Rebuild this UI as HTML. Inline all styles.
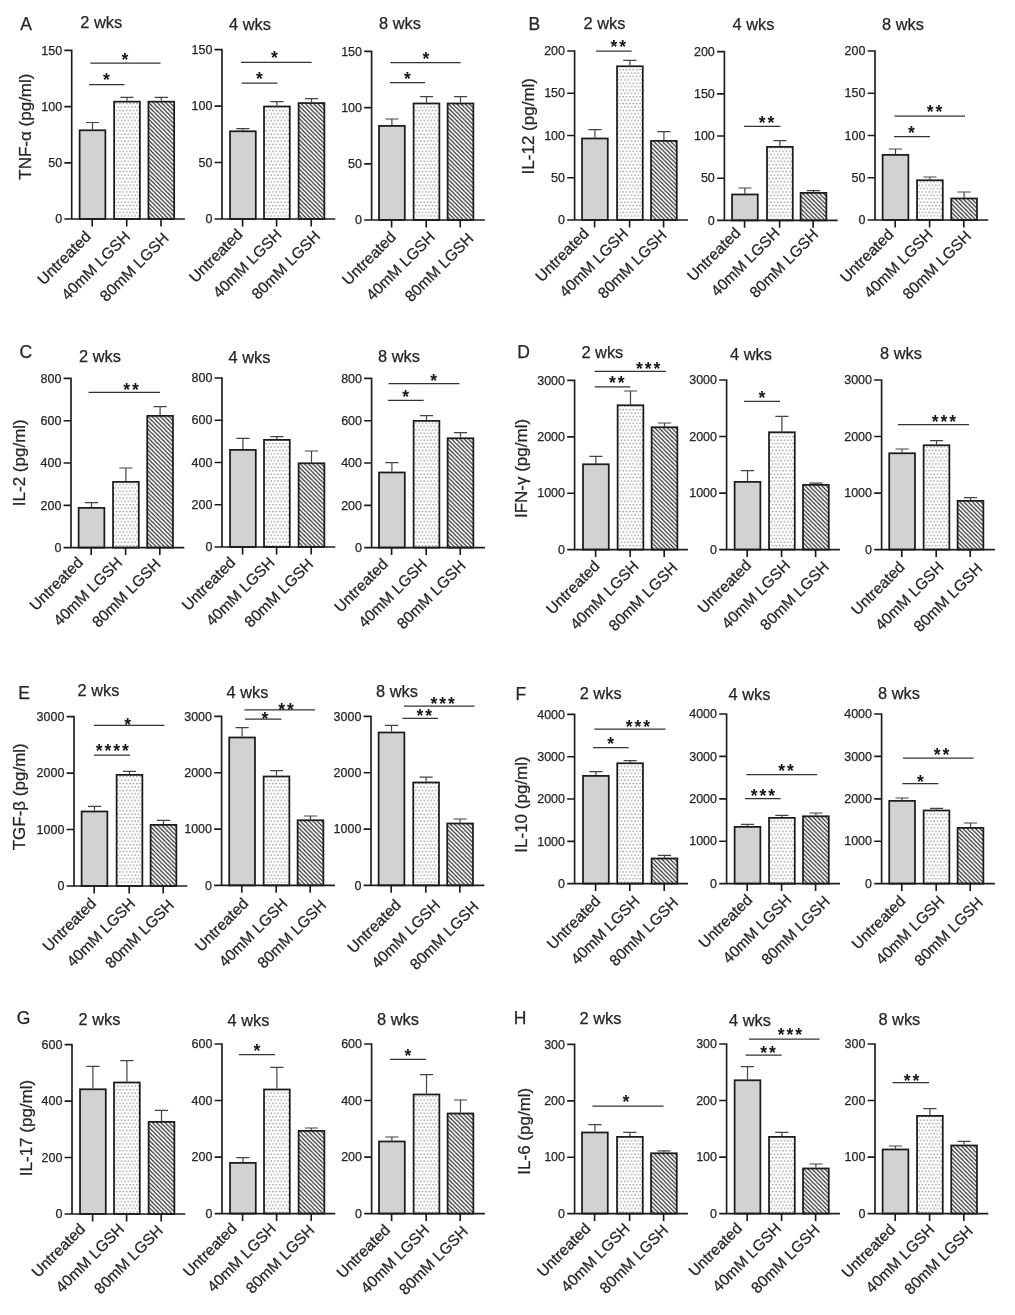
<!DOCTYPE html>
<html lang="en"><head><meta charset="utf-8"><title>Cytokine levels</title>
<style>
html,body{margin:0;padding:0;background:#fff}
svg{display:block}
.s{stroke:none;fill:#161616}
text{font-family:"Liberation Sans",sans-serif;fill:#262626;stroke:#262626;stroke-width:0.25px}
</style></head><body>
<svg width="1015" height="1315" viewBox="0 0 1015 1315">
<defs>
<pattern id="dots" width="3.4" height="6.8" patternUnits="userSpaceOnUse">
<rect width="3.4" height="6.8" fill="#fdfdfd"/>
<rect x="0.3" y="1.0" width="1.2" height="1.2" fill="#7d7d7d"/>
<rect x="2.0" y="4.4" width="1.2" height="1.2" fill="#7d7d7d"/>
</pattern>
<pattern id="hatch" width="4.2" height="4.2" patternUnits="userSpaceOnUse">
<rect width="4.2" height="4.2" fill="#fcfcfc"/>
<path d="M-2.1 -2.1L6.3 6.3M-2.1 2.1L2.1 6.3M2.1 -2.1L6.3 2.1" stroke="#262626" stroke-width="1.15"/>
</pattern>
</defs>
<rect width="1015" height="1315" fill="#fff"/>
<g><path d="M92.5 129.4V122.5M85.9 122.5H99.1" stroke="#444" stroke-width="1.2" fill="none"/>
<rect x="79.62" y="130.28" width="25.75" height="88.72" fill="#d2d2d2" stroke="#1c1c1c" stroke-width="1.75"/>
<path d="M127 100.8V97.4M120.4 97.4H133.6" stroke="#444" stroke-width="1.2" fill="none"/>
<rect x="114.12" y="101.67" width="25.75" height="117.33" fill="url(#dots)" stroke="#1c1c1c" stroke-width="1.75"/>
<path d="M161.3 100.8V97.4M154.7 97.4H167.9" stroke="#444" stroke-width="1.2" fill="none"/>
<rect x="148.43" y="101.67" width="25.75" height="117.33" fill="url(#hatch)" stroke="#1c1c1c" stroke-width="1.75"/>
<path d="M71.7 49.57V219M64.3 219H185M64.3 50.4H71.7M64.3 106.6H71.7M64.3 162.8H71.7M92.2 219V226.4M126.7 219V226.4M161 219V226.4" stroke="#1c1c1c" stroke-width="1.65" fill="none"/>
<text x="62.1" y="54.6" font-size="12.5" text-anchor="end">150</text>
<text x="62.1" y="110.8" font-size="12.5" text-anchor="end">100</text>
<text x="62.1" y="167" font-size="12.5" text-anchor="end">50</text>
<text x="62.1" y="223.2" font-size="12.5" text-anchor="end">0</text>
<text transform="translate(91.95 237.5) rotate(-45)" font-size="15.5" text-anchor="end">Untreated</text>
<text transform="translate(131.1 237.6) rotate(-45)" font-size="15.5" text-anchor="end">40mM LGSH</text>
<text transform="translate(169.7 239.1) rotate(-45)" font-size="15.5" text-anchor="end">80mM LGSH</text>
<path d="M89 84.6H124.5" stroke="#333" stroke-width="1.25"/>
<text x="107.28" y="86.2" font-size="17.5" text-anchor="middle" font-weight="bold" letter-spacing="1.95" class="s">*</text>
<path d="M90.3 63.2H160.5" stroke="#333" stroke-width="1.25"/>
<text x="125.88" y="65.5" font-size="17.5" text-anchor="middle" font-weight="bold" letter-spacing="1.95" class="s">*</text>
<text x="80.3" y="28.3" font-size="16.4">2 wks</text></g>
<g><path d="M242.9 130.4V128.6M236.3 128.6H249.5" stroke="#444" stroke-width="1.2" fill="none"/>
<rect x="230.03" y="131.28" width="25.75" height="87.72" fill="#d2d2d2" stroke="#1c1c1c" stroke-width="1.75"/>
<path d="M276.9 105.6V101.6M270.3 101.6H283.5" stroke="#444" stroke-width="1.2" fill="none"/>
<rect x="264.02" y="106.47" width="25.75" height="112.53" fill="url(#dots)" stroke="#1c1c1c" stroke-width="1.75"/>
<path d="M311.5 102.2V98.6M304.9 98.6H318.1" stroke="#444" stroke-width="1.2" fill="none"/>
<rect x="298.62" y="103.08" width="25.75" height="115.92" fill="url(#hatch)" stroke="#1c1c1c" stroke-width="1.75"/>
<path d="M222 48.77V219M214.6 219H335.3M214.6 49.6H222M214.6 106.07H222M214.6 162.53H222M242.6 219V226.4M276.6 219V226.4M311.2 219V226.4" stroke="#1c1c1c" stroke-width="1.65" fill="none"/>
<text x="212.4" y="53.8" font-size="12.5" text-anchor="end">150</text>
<text x="212.4" y="110.27" font-size="12.5" text-anchor="end">100</text>
<text x="212.4" y="166.73" font-size="12.5" text-anchor="end">50</text>
<text x="212.4" y="223.2" font-size="12.5" text-anchor="end">0</text>
<text transform="translate(243.55 235.4) rotate(-45)" font-size="15.5" text-anchor="end">Untreated</text>
<text transform="translate(282.7 235.5) rotate(-45)" font-size="15.5" text-anchor="end">40mM LGSH</text>
<text transform="translate(321.3 237) rotate(-45)" font-size="15.5" text-anchor="end">80mM LGSH</text>
<path d="M241.6 83H277.4" stroke="#333" stroke-width="1.25"/>
<text x="260.38" y="85.2" font-size="17.5" text-anchor="middle" font-weight="bold" letter-spacing="1.95" class="s">*</text>
<path d="M241 62.4H311.6" stroke="#333" stroke-width="1.25"/>
<text x="275.38" y="64.2" font-size="17.5" text-anchor="middle" font-weight="bold" letter-spacing="1.95" class="s">*</text>
<text x="229" y="30" font-size="16.4">4 wks</text></g>
<g><path d="M391.9 125V119M385.3 119H398.5" stroke="#444" stroke-width="1.2" fill="none"/>
<rect x="379.03" y="125.88" width="25.75" height="94.12" fill="#d2d2d2" stroke="#1c1c1c" stroke-width="1.75"/>
<path d="M426.5 102.6V96.6M419.9 96.6H433.1" stroke="#444" stroke-width="1.2" fill="none"/>
<rect x="413.62" y="103.47" width="25.75" height="116.53" fill="url(#dots)" stroke="#1c1c1c" stroke-width="1.75"/>
<path d="M460.5 102.6V96.6M453.9 96.6H467.1" stroke="#444" stroke-width="1.2" fill="none"/>
<rect x="447.62" y="103.47" width="25.75" height="116.53" fill="url(#hatch)" stroke="#1c1c1c" stroke-width="1.75"/>
<path d="M371.6 50.57V220M364.2 220H484.9M364.2 51.4H371.6M364.2 107.6H371.6M364.2 163.8H371.6M391.6 220V227.4M426.2 220V227.4M460.2 220V227.4" stroke="#1c1c1c" stroke-width="1.65" fill="none"/>
<text x="362" y="55.6" font-size="12.5" text-anchor="end">150</text>
<text x="362" y="111.8" font-size="12.5" text-anchor="end">100</text>
<text x="362" y="168" font-size="12.5" text-anchor="end">50</text>
<text x="362" y="224.2" font-size="12.5" text-anchor="end">0</text>
<text transform="translate(396.75 237.8) rotate(-45)" font-size="15.5" text-anchor="end">Untreated</text>
<text transform="translate(435.9 237.9) rotate(-45)" font-size="15.5" text-anchor="end">40mM LGSH</text>
<text transform="translate(474.5 239.4) rotate(-45)" font-size="15.5" text-anchor="end">80mM LGSH</text>
<path d="M390 82.6H425" stroke="#333" stroke-width="1.25"/>
<text x="408.38" y="85.2" font-size="17.5" text-anchor="middle" font-weight="bold" letter-spacing="1.95" class="s">*</text>
<path d="M390.4 62.6H460.6" stroke="#333" stroke-width="1.25"/>
<text x="426.78" y="64.8" font-size="17.5" text-anchor="middle" font-weight="bold" letter-spacing="1.95" class="s">*</text>
<text x="379" y="29" font-size="16.4">8 wks</text></g>
<g><path d="M594.9 137.6V129.6M588.3 129.6H601.5" stroke="#444" stroke-width="1.2" fill="none"/>
<rect x="582.02" y="138.47" width="25.75" height="81.53" fill="#d2d2d2" stroke="#1c1c1c" stroke-width="1.75"/>
<path d="M629.9 65.4V60.4M623.3 60.4H636.5" stroke="#444" stroke-width="1.2" fill="none"/>
<rect x="617.02" y="66.28" width="25.75" height="153.72" fill="url(#dots)" stroke="#1c1c1c" stroke-width="1.75"/>
<path d="M663.9 140V131.6M657.3 131.6H670.5" stroke="#444" stroke-width="1.2" fill="none"/>
<rect x="651.02" y="140.88" width="25.75" height="79.12" fill="url(#hatch)" stroke="#1c1c1c" stroke-width="1.75"/>
<path d="M574.6 50.17V220M567.2 220H687.9M567.2 51H574.6M567.2 93.25H574.6M567.2 135.5H574.6M567.2 177.75H574.6M594.6 220V227.4M629.6 220V227.4M663.6 220V227.4" stroke="#1c1c1c" stroke-width="1.65" fill="none"/>
<text x="565" y="55.2" font-size="12.5" text-anchor="end">200</text>
<text x="565" y="97.45" font-size="12.5" text-anchor="end">150</text>
<text x="565" y="139.7" font-size="12.5" text-anchor="end">100</text>
<text x="565" y="181.95" font-size="12.5" text-anchor="end">50</text>
<text x="565" y="224.2" font-size="12.5" text-anchor="end">0</text>
<text transform="translate(589.95 234.5) rotate(-45)" font-size="15.5" text-anchor="end">Untreated</text>
<text transform="translate(629.1 234.6) rotate(-45)" font-size="15.5" text-anchor="end">40mM LGSH</text>
<text transform="translate(667.7 236.1) rotate(-45)" font-size="15.5" text-anchor="end">80mM LGSH</text>
<path d="M596 51H631.6" stroke="#333" stroke-width="1.25"/>
<text x="619.38" y="52.8" font-size="17.5" text-anchor="middle" font-weight="bold" letter-spacing="1.95" class="s">**</text>
<text x="583.6" y="29" font-size="16.4">2 wks</text></g>
<g><path d="M744.9 193.6V188M738.3 188H751.5" stroke="#444" stroke-width="1.2" fill="none"/>
<rect x="732.02" y="194.47" width="25.75" height="25.93" fill="#d2d2d2" stroke="#1c1c1c" stroke-width="1.75"/>
<path d="M779.9 146V140.6M773.3 140.6H786.5" stroke="#444" stroke-width="1.2" fill="none"/>
<rect x="767.02" y="146.88" width="25.75" height="73.53" fill="url(#dots)" stroke="#1c1c1c" stroke-width="1.75"/>
<path d="M813.5 192V190.6M806.9 190.6H820.1" stroke="#444" stroke-width="1.2" fill="none"/>
<rect x="800.62" y="192.88" width="25.75" height="27.53" fill="url(#hatch)" stroke="#1c1c1c" stroke-width="1.75"/>
<path d="M724.4 50.77V220.4M717 220.4H837.7M717 51.6H724.4M717 93.8H724.4M717 136H724.4M717 178.2H724.4M744.6 220.4V227.8M779.6 220.4V227.8M813.2 220.4V227.8" stroke="#1c1c1c" stroke-width="1.65" fill="none"/>
<text x="714.8" y="55.8" font-size="12.5" text-anchor="end">200</text>
<text x="714.8" y="98" font-size="12.5" text-anchor="end">150</text>
<text x="714.8" y="140.2" font-size="12.5" text-anchor="end">100</text>
<text x="714.8" y="182.4" font-size="12.5" text-anchor="end">50</text>
<text x="714.8" y="224.6" font-size="12.5" text-anchor="end">0</text>
<text transform="translate(741.55 233.8) rotate(-45)" font-size="15.5" text-anchor="end">Untreated</text>
<text transform="translate(780.7 233.9) rotate(-45)" font-size="15.5" text-anchor="end">40mM LGSH</text>
<text transform="translate(819.3 235.4) rotate(-45)" font-size="15.5" text-anchor="end">80mM LGSH</text>
<path d="M744 126.4H780.4" stroke="#333" stroke-width="1.25"/>
<text x="767.58" y="128.8" font-size="17.5" text-anchor="middle" font-weight="bold" letter-spacing="1.95" class="s">**</text>
<text x="732.6" y="30.4" font-size="16.4">4 wks</text></g>
<g><path d="M895.5 154V149M888.9 149H902.1" stroke="#444" stroke-width="1.2" fill="none"/>
<rect x="882.62" y="154.88" width="25.75" height="65.12" fill="#d2d2d2" stroke="#1c1c1c" stroke-width="1.75"/>
<path d="M929.9 179.4V177M923.3 177H936.5" stroke="#444" stroke-width="1.2" fill="none"/>
<rect x="917.02" y="180.28" width="25.75" height="39.72" fill="url(#dots)" stroke="#1c1c1c" stroke-width="1.75"/>
<path d="M964.1 197.6V192M957.5 192H970.7" stroke="#444" stroke-width="1.2" fill="none"/>
<rect x="951.23" y="198.47" width="25.75" height="21.53" fill="url(#hatch)" stroke="#1c1c1c" stroke-width="1.75"/>
<path d="M875 50.17V220M867.6 220H988.3M867.6 51H875M867.6 93.25H875M867.6 135.5H875M867.6 177.75H875M895.2 220V227.4M929.6 220V227.4M963.8 220V227.4" stroke="#1c1c1c" stroke-width="1.65" fill="none"/>
<text x="865.4" y="55.2" font-size="12.5" text-anchor="end">200</text>
<text x="865.4" y="97.45" font-size="12.5" text-anchor="end">150</text>
<text x="865.4" y="139.7" font-size="12.5" text-anchor="end">100</text>
<text x="865.4" y="181.95" font-size="12.5" text-anchor="end">50</text>
<text x="865.4" y="224.2" font-size="12.5" text-anchor="end">0</text>
<text transform="translate(894.55 235.4) rotate(-45)" font-size="15.5" text-anchor="end">Untreated</text>
<text transform="translate(933.7 235.5) rotate(-45)" font-size="15.5" text-anchor="end">40mM LGSH</text>
<text transform="translate(972.3 237) rotate(-45)" font-size="15.5" text-anchor="end">80mM LGSH</text>
<path d="M894 136.6H930" stroke="#333" stroke-width="1.25"/>
<text x="912.38" y="138.8" font-size="17.5" text-anchor="middle" font-weight="bold" letter-spacing="1.95" class="s">*</text>
<path d="M894.4 116H965" stroke="#333" stroke-width="1.25"/>
<text x="935.58" y="118.2" font-size="17.5" text-anchor="middle" font-weight="bold" letter-spacing="1.95" class="s">**</text>
<text x="882" y="29.6" font-size="16.4">8 wks</text></g>
<g><path d="M91.5 507V502.6M84.9 502.6H98.1" stroke="#444" stroke-width="1.2" fill="none"/>
<rect x="78.62" y="507.88" width="25.75" height="39.73" fill="#d2d2d2" stroke="#1c1c1c" stroke-width="1.75"/>
<path d="M125.9 481V468M119.3 468H132.5" stroke="#444" stroke-width="1.2" fill="none"/>
<rect x="113.03" y="481.88" width="25.75" height="65.73" fill="url(#dots)" stroke="#1c1c1c" stroke-width="1.75"/>
<path d="M160.1 415V406.6M153.5 406.6H166.7" stroke="#444" stroke-width="1.2" fill="none"/>
<rect x="147.22" y="415.88" width="25.75" height="131.73" fill="url(#hatch)" stroke="#1c1c1c" stroke-width="1.75"/>
<path d="M71 377.57V547.6M63.6 547.6H184.3M63.6 378.4H71M63.6 420.7H71M63.6 463H71M63.6 505.3H71M91.2 547.6V555M125.6 547.6V555M159.8 547.6V555" stroke="#1c1c1c" stroke-width="1.65" fill="none"/>
<text x="61.4" y="382.6" font-size="12.5" text-anchor="end">800</text>
<text x="61.4" y="424.9" font-size="12.5" text-anchor="end">600</text>
<text x="61.4" y="467.2" font-size="12.5" text-anchor="end">400</text>
<text x="61.4" y="509.5" font-size="12.5" text-anchor="end">200</text>
<text x="61.4" y="551.8" font-size="12.5" text-anchor="end">0</text>
<text transform="translate(84.05 563.4) rotate(-45)" font-size="15.5" text-anchor="end">Untreated</text>
<text transform="translate(123.2 563.5) rotate(-45)" font-size="15.5" text-anchor="end">40mM LGSH</text>
<text transform="translate(161.8 565) rotate(-45)" font-size="15.5" text-anchor="end">80mM LGSH</text>
<path d="M88.6 392.4H160" stroke="#333" stroke-width="1.25"/>
<text x="131.98" y="395.8" font-size="17.5" text-anchor="middle" font-weight="bold" letter-spacing="1.95" class="s">**</text>
<text x="79" y="361.6" font-size="16.4">2 wks</text></g>
<g><path d="M242.9 449V438.4M236.3 438.4H249.5" stroke="#444" stroke-width="1.2" fill="none"/>
<rect x="230.03" y="449.88" width="25.75" height="97.12" fill="#d2d2d2" stroke="#1c1c1c" stroke-width="1.75"/>
<path d="M276.9 439V436.6M270.3 436.6H283.5" stroke="#444" stroke-width="1.2" fill="none"/>
<rect x="264.02" y="439.88" width="25.75" height="107.12" fill="url(#dots)" stroke="#1c1c1c" stroke-width="1.75"/>
<path d="M311.5 462.4V451M304.9 451H318.1" stroke="#444" stroke-width="1.2" fill="none"/>
<rect x="298.62" y="463.27" width="25.75" height="83.73" fill="url(#hatch)" stroke="#1c1c1c" stroke-width="1.75"/>
<path d="M222 377.18V547M214.6 547H335.3M214.6 378H222M214.6 420.25H222M214.6 462.5H222M214.6 504.75H222M242.6 547V554.4M276.6 547V554.4M311.2 547V554.4" stroke="#1c1c1c" stroke-width="1.65" fill="none"/>
<text x="212.4" y="382.2" font-size="12.5" text-anchor="end">800</text>
<text x="212.4" y="424.45" font-size="12.5" text-anchor="end">600</text>
<text x="212.4" y="466.7" font-size="12.5" text-anchor="end">400</text>
<text x="212.4" y="508.95" font-size="12.5" text-anchor="end">200</text>
<text x="212.4" y="551.2" font-size="12.5" text-anchor="end">0</text>
<text transform="translate(236.45 563.4) rotate(-45)" font-size="15.5" text-anchor="end">Untreated</text>
<text transform="translate(275.6 563.5) rotate(-45)" font-size="15.5" text-anchor="end">40mM LGSH</text>
<text transform="translate(314.2 565) rotate(-45)" font-size="15.5" text-anchor="end">80mM LGSH</text>
<text x="228.5" y="363" font-size="16.4">4 wks</text></g>
<g><path d="M391.9 471.6V462.6M385.3 462.6H398.5" stroke="#444" stroke-width="1.2" fill="none"/>
<rect x="379.03" y="472.48" width="25.75" height="75.12" fill="#d2d2d2" stroke="#1c1c1c" stroke-width="1.75"/>
<path d="M426.5 420V415.6M419.9 415.6H433.1" stroke="#444" stroke-width="1.2" fill="none"/>
<rect x="413.62" y="420.88" width="25.75" height="126.73" fill="url(#dots)" stroke="#1c1c1c" stroke-width="1.75"/>
<path d="M460.5 437.4V432.6M453.9 432.6H467.1" stroke="#444" stroke-width="1.2" fill="none"/>
<rect x="447.62" y="438.27" width="25.75" height="109.33" fill="url(#hatch)" stroke="#1c1c1c" stroke-width="1.75"/>
<path d="M371.6 377.57V547.6M364.2 547.6H484.9M364.2 378.4H371.6M364.2 420.7H371.6M364.2 463H371.6M364.2 505.3H371.6M391.6 547.6V555M426.2 547.6V555M460.2 547.6V555" stroke="#1c1c1c" stroke-width="1.65" fill="none"/>
<text x="362" y="382.6" font-size="12.5" text-anchor="end">800</text>
<text x="362" y="424.9" font-size="12.5" text-anchor="end">600</text>
<text x="362" y="467.2" font-size="12.5" text-anchor="end">400</text>
<text x="362" y="509.5" font-size="12.5" text-anchor="end">200</text>
<text x="362" y="551.8" font-size="12.5" text-anchor="end">0</text>
<text transform="translate(388.85 565) rotate(-45)" font-size="15.5" text-anchor="end">Untreated</text>
<text transform="translate(428 565.1) rotate(-45)" font-size="15.5" text-anchor="end">40mM LGSH</text>
<text transform="translate(466.6 566.6) rotate(-45)" font-size="15.5" text-anchor="end">80mM LGSH</text>
<path d="M388 400.4H423.6" stroke="#333" stroke-width="1.25"/>
<text x="406.58" y="402.8" font-size="17.5" text-anchor="middle" font-weight="bold" letter-spacing="1.95" class="s">*</text>
<path d="M388.6 383.6H459.4" stroke="#333" stroke-width="1.25"/>
<text x="434.58" y="387.2" font-size="17.5" text-anchor="middle" font-weight="bold" letter-spacing="1.95" class="s">*</text>
<text x="378.1" y="362" font-size="16.4">8 wks</text></g>
<g><path d="M595.9 463.4V456.4M589.3 456.4H602.5" stroke="#444" stroke-width="1.2" fill="none"/>
<rect x="583.02" y="464.27" width="25.75" height="85.33" fill="#d2d2d2" stroke="#1c1c1c" stroke-width="1.75"/>
<path d="M630.5 404.4V391M623.9 391H637.1" stroke="#444" stroke-width="1.2" fill="none"/>
<rect x="617.62" y="405.27" width="25.75" height="144.33" fill="url(#dots)" stroke="#1c1c1c" stroke-width="1.75"/>
<path d="M664.5 426.4V423M657.9 423H671.1" stroke="#444" stroke-width="1.2" fill="none"/>
<rect x="651.62" y="427.27" width="25.75" height="122.33" fill="url(#hatch)" stroke="#1c1c1c" stroke-width="1.75"/>
<path d="M574.6 379.57V549.6M567.2 549.6H687.9M567.2 380.4H574.6M567.2 436.8H574.6M567.2 493.2H574.6M595.6 549.6V557M630.2 549.6V557M664.2 549.6V557" stroke="#1c1c1c" stroke-width="1.65" fill="none"/>
<text x="565" y="384.6" font-size="12.5" text-anchor="end">3000</text>
<text x="565" y="441" font-size="12.5" text-anchor="end">2000</text>
<text x="565" y="497.4" font-size="12.5" text-anchor="end">1000</text>
<text x="565" y="553.8" font-size="12.5" text-anchor="end">0</text>
<text transform="translate(600.65 567) rotate(-45)" font-size="15.5" text-anchor="end">Untreated</text>
<text transform="translate(639.8 567.1) rotate(-45)" font-size="15.5" text-anchor="end">40mM LGSH</text>
<text transform="translate(678.4 568.6) rotate(-45)" font-size="15.5" text-anchor="end">80mM LGSH</text>
<path d="M594.7 386.8H630.1" stroke="#333" stroke-width="1.25"/>
<text x="617.78" y="389" font-size="17.5" text-anchor="middle" font-weight="bold" letter-spacing="1.95" class="s">**</text>
<path d="M594.7 371.4H665.9" stroke="#333" stroke-width="1.25"/>
<text x="649.18" y="374.9" font-size="17.5" text-anchor="middle" font-weight="bold" letter-spacing="1.95" class="s">***</text>
<text x="581.4" y="358.2" font-size="16.4">2 wks</text></g>
<g><path d="M747.5 481V470.6M740.9 470.6H754.1" stroke="#444" stroke-width="1.2" fill="none"/>
<rect x="734.62" y="481.88" width="25.75" height="67.73" fill="#d2d2d2" stroke="#1c1c1c" stroke-width="1.75"/>
<path d="M781.9 431.4V416.4M775.3 416.4H788.5" stroke="#444" stroke-width="1.2" fill="none"/>
<rect x="769.02" y="432.27" width="25.75" height="117.33" fill="url(#dots)" stroke="#1c1c1c" stroke-width="1.75"/>
<path d="M815.9 484V483.2M809.3 483.2H822.5" stroke="#444" stroke-width="1.2" fill="none"/>
<rect x="803.02" y="484.88" width="25.75" height="64.73" fill="url(#hatch)" stroke="#1c1c1c" stroke-width="1.75"/>
<path d="M726.6 379.18V549.6M719.2 549.6H839.9M719.2 380H726.6M719.2 436.53H726.6M719.2 493.07H726.6M747.2 549.6V557M781.6 549.6V557M815.6 549.6V557" stroke="#1c1c1c" stroke-width="1.65" fill="none"/>
<text x="717" y="384.2" font-size="12.5" text-anchor="end">3000</text>
<text x="717" y="440.73" font-size="12.5" text-anchor="end">2000</text>
<text x="717" y="497.27" font-size="12.5" text-anchor="end">1000</text>
<text x="717" y="553.8" font-size="12.5" text-anchor="end">0</text>
<text transform="translate(752.15 566.2) rotate(-45)" font-size="15.5" text-anchor="end">Untreated</text>
<text transform="translate(791.3 566.3) rotate(-45)" font-size="15.5" text-anchor="end">40mM LGSH</text>
<text transform="translate(829.9 567.8) rotate(-45)" font-size="15.5" text-anchor="end">80mM LGSH</text>
<path d="M744 401.4H780" stroke="#333" stroke-width="1.25"/>
<text x="762.98" y="403.8" font-size="17.5" text-anchor="middle" font-weight="bold" letter-spacing="1.95" class="s">*</text>
<text x="730" y="360" font-size="16.4">4 wks</text></g>
<g><path d="M902.1 452.4V449M895.5 449H908.7" stroke="#444" stroke-width="1.2" fill="none"/>
<rect x="889.23" y="453.27" width="25.75" height="96.33" fill="#d2d2d2" stroke="#1c1c1c" stroke-width="1.75"/>
<path d="M936.5 444.4V440.6M929.9 440.6H943.1" stroke="#444" stroke-width="1.2" fill="none"/>
<rect x="923.62" y="445.27" width="25.75" height="104.33" fill="url(#dots)" stroke="#1c1c1c" stroke-width="1.75"/>
<path d="M970.5 500V497.6M963.9 497.6H977.1" stroke="#444" stroke-width="1.2" fill="none"/>
<rect x="957.62" y="500.88" width="25.75" height="48.73" fill="url(#hatch)" stroke="#1c1c1c" stroke-width="1.75"/>
<path d="M881.6 379.18V549.6M874.2 549.6H994.9M874.2 380H881.6M874.2 436.53H881.6M874.2 493.07H881.6M901.8 549.6V557M936.2 549.6V557M970.2 549.6V557" stroke="#1c1c1c" stroke-width="1.65" fill="none"/>
<text x="872" y="384.2" font-size="12.5" text-anchor="end">3000</text>
<text x="872" y="440.73" font-size="12.5" text-anchor="end">2000</text>
<text x="872" y="497.27" font-size="12.5" text-anchor="end">1000</text>
<text x="872" y="553.8" font-size="12.5" text-anchor="end">0</text>
<text transform="translate(905.65 567.8) rotate(-45)" font-size="15.5" text-anchor="end">Untreated</text>
<text transform="translate(944.8 567.9) rotate(-45)" font-size="15.5" text-anchor="end">40mM LGSH</text>
<text transform="translate(983.4 569.4) rotate(-45)" font-size="15.5" text-anchor="end">80mM LGSH</text>
<path d="M898 424.6H969" stroke="#333" stroke-width="1.25"/>
<text x="944.98" y="428.2" font-size="17.5" text-anchor="middle" font-weight="bold" letter-spacing="1.95" class="s">***</text>
<text x="880" y="359" font-size="16.4">8 wks</text></g>
<g><path d="M94.5 810.6V806.4M87.9 806.4H101.1" stroke="#444" stroke-width="1.2" fill="none"/>
<rect x="81.62" y="811.48" width="25.75" height="74.52" fill="#d2d2d2" stroke="#1c1c1c" stroke-width="1.75"/>
<path d="M129.5 774V771.4M122.9 771.4H136.1" stroke="#444" stroke-width="1.2" fill="none"/>
<rect x="116.62" y="774.88" width="25.75" height="111.12" fill="url(#dots)" stroke="#1c1c1c" stroke-width="1.75"/>
<path d="M163.5 824V820.4M156.9 820.4H170.1" stroke="#444" stroke-width="1.2" fill="none"/>
<rect x="150.62" y="824.88" width="25.75" height="61.12" fill="url(#hatch)" stroke="#1c1c1c" stroke-width="1.75"/>
<path d="M74 715.77V886M66.6 886H187.3M66.6 716.6H74M66.6 773.07H74M66.6 829.53H74M94.2 886V893.4M129.2 886V893.4M163.2 886V893.4" stroke="#1c1c1c" stroke-width="1.65" fill="none"/>
<text x="64.4" y="720.8" font-size="12.5" text-anchor="end">3000</text>
<text x="64.4" y="777.27" font-size="12.5" text-anchor="end">2000</text>
<text x="64.4" y="833.73" font-size="12.5" text-anchor="end">1000</text>
<text x="64.4" y="890.2" font-size="12.5" text-anchor="end">0</text>
<text transform="translate(97.15 904.4) rotate(-45)" font-size="15.5" text-anchor="end">Untreated</text>
<text transform="translate(136.3 904.5) rotate(-45)" font-size="15.5" text-anchor="end">40mM LGSH</text>
<text transform="translate(174.9 906) rotate(-45)" font-size="15.5" text-anchor="end">80mM LGSH</text>
<path d="M94 755H130" stroke="#333" stroke-width="1.25"/>
<text x="113.38" y="757.2" font-size="17.5" text-anchor="middle" font-weight="bold" letter-spacing="1.95" class="s">****</text>
<path d="M94 725.4H164.4" stroke="#333" stroke-width="1.25"/>
<text x="128.58" y="731.2" font-size="17.5" text-anchor="middle" font-weight="bold" letter-spacing="1.95" class="s">*</text>
<text x="77.6" y="696" font-size="16.4">2 wks</text></g>
<g><path d="M242.1 736.6V727.6M235.5 727.6H248.7" stroke="#444" stroke-width="1.2" fill="none"/>
<rect x="229.22" y="737.48" width="25.75" height="147.92" fill="#d2d2d2" stroke="#1c1c1c" stroke-width="1.75"/>
<path d="M276.5 775.6V770.6M269.9 770.6H283.1" stroke="#444" stroke-width="1.2" fill="none"/>
<rect x="263.62" y="776.48" width="25.75" height="108.92" fill="url(#dots)" stroke="#1c1c1c" stroke-width="1.75"/>
<path d="M310.5 819.4V816M303.9 816H317.1" stroke="#444" stroke-width="1.2" fill="none"/>
<rect x="297.62" y="820.27" width="25.75" height="65.12" fill="url(#hatch)" stroke="#1c1c1c" stroke-width="1.75"/>
<path d="M221.6 715.57V885.4M214.2 885.4H334.9M214.2 716.4H221.6M214.2 772.73H221.6M214.2 829.07H221.6M241.8 885.4V892.8M276.2 885.4V892.8M310.2 885.4V892.8" stroke="#1c1c1c" stroke-width="1.65" fill="none"/>
<text x="212" y="720.6" font-size="12.5" text-anchor="end">3000</text>
<text x="212" y="776.93" font-size="12.5" text-anchor="end">2000</text>
<text x="212" y="833.27" font-size="12.5" text-anchor="end">1000</text>
<text x="212" y="889.6" font-size="12.5" text-anchor="end">0</text>
<text transform="translate(249.35 904.4) rotate(-45)" font-size="15.5" text-anchor="end">Untreated</text>
<text transform="translate(288.5 904.5) rotate(-45)" font-size="15.5" text-anchor="end">40mM LGSH</text>
<text transform="translate(327.1 906) rotate(-45)" font-size="15.5" text-anchor="end">80mM LGSH</text>
<path d="M245 719H281.4" stroke="#333" stroke-width="1.25"/>
<text x="265.98" y="725.2" font-size="17.5" text-anchor="middle" font-weight="bold" letter-spacing="1.95" class="s">*</text>
<path d="M244.4 709.8H315" stroke="#333" stroke-width="1.25"/>
<text x="286.98" y="716.2" font-size="17.5" text-anchor="middle" font-weight="bold" letter-spacing="1.95" class="s">**</text>
<text x="226.6" y="698" font-size="16.4">4 wks</text></g>
<g><path d="M391.5 731.6V725.4M384.9 725.4H398.1" stroke="#444" stroke-width="1.2" fill="none"/>
<rect x="378.62" y="732.48" width="25.75" height="152.92" fill="#d2d2d2" stroke="#1c1c1c" stroke-width="1.75"/>
<path d="M426.1 781.6V777.2M419.5 777.2H432.7" stroke="#444" stroke-width="1.2" fill="none"/>
<rect x="413.23" y="782.48" width="25.75" height="102.92" fill="url(#dots)" stroke="#1c1c1c" stroke-width="1.75"/>
<path d="M460.1 822.6V819M453.5 819H466.7" stroke="#444" stroke-width="1.2" fill="none"/>
<rect x="447.23" y="823.48" width="25.75" height="61.92" fill="url(#hatch)" stroke="#1c1c1c" stroke-width="1.75"/>
<path d="M371 715.57V885.4M363.6 885.4H484.3M363.6 716.4H371M363.6 772.73H371M363.6 829.07H371M391.2 885.4V892.8M425.8 885.4V892.8M459.8 885.4V892.8" stroke="#1c1c1c" stroke-width="1.65" fill="none"/>
<text x="361.4" y="720.6" font-size="12.5" text-anchor="end">3000</text>
<text x="361.4" y="776.93" font-size="12.5" text-anchor="end">2000</text>
<text x="361.4" y="833.27" font-size="12.5" text-anchor="end">1000</text>
<text x="361.4" y="889.6" font-size="12.5" text-anchor="end">0</text>
<text transform="translate(401.95 905.9) rotate(-45)" font-size="15.5" text-anchor="end">Untreated</text>
<text transform="translate(441.1 906) rotate(-45)" font-size="15.5" text-anchor="end">40mM LGSH</text>
<text transform="translate(479.7 907.5) rotate(-45)" font-size="15.5" text-anchor="end">80mM LGSH</text>
<path d="M402.4 718.4H438" stroke="#333" stroke-width="1.25"/>
<text x="425.38" y="721.8" font-size="17.5" text-anchor="middle" font-weight="bold" letter-spacing="1.95" class="s">**</text>
<path d="M404 706H474.6" stroke="#333" stroke-width="1.25"/>
<text x="443.58" y="710.2" font-size="17.5" text-anchor="middle" font-weight="bold" letter-spacing="1.95" class="s">***</text>
<text x="376" y="696.6" font-size="16.4">8 wks</text></g>
<g><path d="M595.9 775V771.6M589.3 771.6H602.5" stroke="#444" stroke-width="1.2" fill="none"/>
<rect x="583.02" y="775.88" width="25.75" height="107.73" fill="#d2d2d2" stroke="#1c1c1c" stroke-width="1.75"/>
<path d="M630.1 762.4V760.6M623.5 760.6H636.7" stroke="#444" stroke-width="1.2" fill="none"/>
<rect x="617.23" y="763.27" width="25.75" height="120.33" fill="url(#dots)" stroke="#1c1c1c" stroke-width="1.75"/>
<path d="M664.5 857.6V855.4M657.9 855.4H671.1" stroke="#444" stroke-width="1.2" fill="none"/>
<rect x="651.62" y="858.48" width="25.75" height="25.12" fill="url(#hatch)" stroke="#1c1c1c" stroke-width="1.75"/>
<path d="M574.6 713.57V883.6M567.2 883.6H687.9M567.2 714.4H574.6M567.2 756.7H574.6M567.2 799H574.6M567.2 841.3H574.6M595.6 883.6V891M629.8 883.6V891M664.2 883.6V891" stroke="#1c1c1c" stroke-width="1.65" fill="none"/>
<text x="565" y="718.6" font-size="12.5" text-anchor="end">4000</text>
<text x="565" y="760.9" font-size="12.5" text-anchor="end">3000</text>
<text x="565" y="803.2" font-size="12.5" text-anchor="end">2000</text>
<text x="565" y="845.5" font-size="12.5" text-anchor="end">1000</text>
<text x="565" y="887.8" font-size="12.5" text-anchor="end">0</text>
<text transform="translate(601.45 902) rotate(-45)" font-size="15.5" text-anchor="end">Untreated</text>
<text transform="translate(640.6 902.1) rotate(-45)" font-size="15.5" text-anchor="end">40mM LGSH</text>
<text transform="translate(679.2 903.6) rotate(-45)" font-size="15.5" text-anchor="end">80mM LGSH</text>
<path d="M593 747.6H628.6" stroke="#333" stroke-width="1.25"/>
<text x="611.58" y="750.2" font-size="17.5" text-anchor="middle" font-weight="bold" letter-spacing="1.95" class="s">*</text>
<path d="M594.4 729H665.6" stroke="#333" stroke-width="1.25"/>
<text x="638.98" y="732.6" font-size="17.5" text-anchor="middle" font-weight="bold" letter-spacing="1.95" class="s">***</text>
<text x="579.7" y="698.5" font-size="16.4">2 wks</text></g>
<g><path d="M747.5 826V824.4M740.9 824.4H754.1" stroke="#444" stroke-width="1.2" fill="none"/>
<rect x="734.62" y="826.88" width="25.75" height="56.73" fill="#d2d2d2" stroke="#1c1c1c" stroke-width="1.75"/>
<path d="M781.9 817V815.4M775.3 815.4H788.5" stroke="#444" stroke-width="1.2" fill="none"/>
<rect x="769.02" y="817.88" width="25.75" height="65.73" fill="url(#dots)" stroke="#1c1c1c" stroke-width="1.75"/>
<path d="M815.9 815.4V813M809.3 813H822.5" stroke="#444" stroke-width="1.2" fill="none"/>
<rect x="803.02" y="816.27" width="25.75" height="67.33" fill="url(#hatch)" stroke="#1c1c1c" stroke-width="1.75"/>
<path d="M726.6 713.17V883.6M719.2 883.6H839.9M719.2 714H726.6M719.2 756.4H726.6M719.2 798.8H726.6M719.2 841.2H726.6M747.2 883.6V891M781.6 883.6V891M815.6 883.6V891" stroke="#1c1c1c" stroke-width="1.65" fill="none"/>
<text x="717" y="718.2" font-size="12.5" text-anchor="end">4000</text>
<text x="717" y="760.6" font-size="12.5" text-anchor="end">3000</text>
<text x="717" y="803" font-size="12.5" text-anchor="end">2000</text>
<text x="717" y="845.4" font-size="12.5" text-anchor="end">1000</text>
<text x="717" y="887.8" font-size="12.5" text-anchor="end">0</text>
<text transform="translate(753.25 900.8) rotate(-45)" font-size="15.5" text-anchor="end">Untreated</text>
<text transform="translate(792.4 900.9) rotate(-45)" font-size="15.5" text-anchor="end">40mM LGSH</text>
<text transform="translate(831 902.4) rotate(-45)" font-size="15.5" text-anchor="end">80mM LGSH</text>
<path d="M745 798.6H780.6" stroke="#333" stroke-width="1.25"/>
<text x="763.98" y="802.2" font-size="17.5" text-anchor="middle" font-weight="bold" letter-spacing="1.95" class="s">***</text>
<path d="M746.4 774.6H817" stroke="#333" stroke-width="1.25"/>
<text x="786.98" y="777.2" font-size="17.5" text-anchor="middle" font-weight="bold" letter-spacing="1.95" class="s">**</text>
<text x="728.6" y="700" font-size="16.4">4 wks</text></g>
<g><path d="M902.1 800V798M895.5 798H908.7" stroke="#444" stroke-width="1.2" fill="none"/>
<rect x="889.23" y="800.88" width="25.75" height="82.73" fill="#d2d2d2" stroke="#1c1c1c" stroke-width="1.75"/>
<path d="M936.5 809.6V808.4M929.9 808.4H943.1" stroke="#444" stroke-width="1.2" fill="none"/>
<rect x="923.62" y="810.48" width="25.75" height="73.12" fill="url(#dots)" stroke="#1c1c1c" stroke-width="1.75"/>
<path d="M970.5 827V823M963.9 823H977.1" stroke="#444" stroke-width="1.2" fill="none"/>
<rect x="957.62" y="827.88" width="25.75" height="55.73" fill="url(#hatch)" stroke="#1c1c1c" stroke-width="1.75"/>
<path d="M881.6 713.17V883.6M874.2 883.6H994.9M874.2 714H881.6M874.2 756.4H881.6M874.2 798.8H881.6M874.2 841.2H881.6M901.8 883.6V891M936.2 883.6V891M970.2 883.6V891" stroke="#1c1c1c" stroke-width="1.65" fill="none"/>
<text x="872" y="718.2" font-size="12.5" text-anchor="end">4000</text>
<text x="872" y="760.6" font-size="12.5" text-anchor="end">3000</text>
<text x="872" y="803" font-size="12.5" text-anchor="end">2000</text>
<text x="872" y="845.4" font-size="12.5" text-anchor="end">1000</text>
<text x="872" y="887.8" font-size="12.5" text-anchor="end">0</text>
<text transform="translate(906.25 902) rotate(-45)" font-size="15.5" text-anchor="end">Untreated</text>
<text transform="translate(945.4 902.1) rotate(-45)" font-size="15.5" text-anchor="end">40mM LGSH</text>
<text transform="translate(984 903.6) rotate(-45)" font-size="15.5" text-anchor="end">80mM LGSH</text>
<path d="M902.4 783.6H938.4" stroke="#333" stroke-width="1.25"/>
<text x="921.38" y="788.2" font-size="17.5" text-anchor="middle" font-weight="bold" letter-spacing="1.95" class="s">*</text>
<path d="M903 758H973.6" stroke="#333" stroke-width="1.25"/>
<text x="942.58" y="760.6" font-size="17.5" text-anchor="middle" font-weight="bold" letter-spacing="1.95" class="s">**</text>
<text x="878" y="699" font-size="16.4">8 wks</text></g>
<g><path d="M92.9 1088.4V1066.4M86.3 1066.4H99.5" stroke="#444" stroke-width="1.2" fill="none"/>
<rect x="80.03" y="1089.28" width="25.75" height="124.72" fill="#d2d2d2" stroke="#1c1c1c" stroke-width="1.75"/>
<path d="M126.9 1081.6V1060.6M120.3 1060.6H133.5" stroke="#444" stroke-width="1.2" fill="none"/>
<rect x="114.03" y="1082.47" width="25.75" height="131.53" fill="url(#dots)" stroke="#1c1c1c" stroke-width="1.75"/>
<path d="M161.5 1121V1110.4M154.9 1110.4H168.1" stroke="#444" stroke-width="1.2" fill="none"/>
<rect x="148.62" y="1121.88" width="25.75" height="92.12" fill="url(#hatch)" stroke="#1c1c1c" stroke-width="1.75"/>
<path d="M72 1043.77V1214M64.6 1214H185.3M64.6 1044.6H72M64.6 1101.07H72M64.6 1157.53H72M92.6 1214V1221.4M126.6 1214V1221.4M161.2 1214V1221.4" stroke="#1c1c1c" stroke-width="1.65" fill="none"/>
<text x="62.4" y="1048.8" font-size="12.5" text-anchor="end">600</text>
<text x="62.4" y="1105.27" font-size="12.5" text-anchor="end">400</text>
<text x="62.4" y="1161.73" font-size="12.5" text-anchor="end">200</text>
<text x="62.4" y="1218.2" font-size="12.5" text-anchor="end">0</text>
<text transform="translate(86.15 1230) rotate(-45)" font-size="15.5" text-anchor="end">Untreated</text>
<text transform="translate(125.3 1230.1) rotate(-45)" font-size="15.5" text-anchor="end">40mM LGSH</text>
<text transform="translate(163.9 1231.6) rotate(-45)" font-size="15.5" text-anchor="end">80mM LGSH</text>
<text x="78.6" y="1024.7" font-size="16.4">2 wks</text></g>
<g><path d="M242.9 1162V1157.6M236.3 1157.6H249.5" stroke="#444" stroke-width="1.2" fill="none"/>
<rect x="230.03" y="1162.88" width="25.75" height="50.72" fill="#d2d2d2" stroke="#1c1c1c" stroke-width="1.75"/>
<path d="M276.9 1088.6V1067.4M270.3 1067.4H283.5" stroke="#444" stroke-width="1.2" fill="none"/>
<rect x="264.02" y="1089.47" width="25.75" height="124.12" fill="url(#dots)" stroke="#1c1c1c" stroke-width="1.75"/>
<path d="M311.5 1130V1128M304.9 1128H318.1" stroke="#444" stroke-width="1.2" fill="none"/>
<rect x="298.62" y="1130.88" width="25.75" height="82.72" fill="url(#hatch)" stroke="#1c1c1c" stroke-width="1.75"/>
<path d="M222 1043.17V1213.6M214.6 1213.6H335.3M214.6 1044H222M214.6 1100.53H222M214.6 1157.07H222M242.6 1213.6V1221M276.6 1213.6V1221M311.2 1213.6V1221" stroke="#1c1c1c" stroke-width="1.65" fill="none"/>
<text x="212.4" y="1048.2" font-size="12.5" text-anchor="end">600</text>
<text x="212.4" y="1104.73" font-size="12.5" text-anchor="end">400</text>
<text x="212.4" y="1161.27" font-size="12.5" text-anchor="end">200</text>
<text x="212.4" y="1217.8" font-size="12.5" text-anchor="end">0</text>
<text transform="translate(237.75 1229.5) rotate(-45)" font-size="15.5" text-anchor="end">Untreated</text>
<text transform="translate(276.9 1229.6) rotate(-45)" font-size="15.5" text-anchor="end">40mM LGSH</text>
<text transform="translate(315.5 1231.1) rotate(-45)" font-size="15.5" text-anchor="end">80mM LGSH</text>
<path d="M239 1054.6H275" stroke="#333" stroke-width="1.25"/>
<text x="257.98" y="1057.2" font-size="17.5" text-anchor="middle" font-weight="bold" letter-spacing="1.95" class="s">*</text>
<text x="227.6" y="1026.3" font-size="16.4">4 wks</text></g>
<g><path d="M391.9 1140.6V1137M385.3 1137H398.5" stroke="#444" stroke-width="1.2" fill="none"/>
<rect x="379.03" y="1141.47" width="25.75" height="72.12" fill="#d2d2d2" stroke="#1c1c1c" stroke-width="1.75"/>
<path d="M426.5 1093.6V1074.6M419.9 1074.6H433.1" stroke="#444" stroke-width="1.2" fill="none"/>
<rect x="413.62" y="1094.47" width="25.75" height="119.12" fill="url(#dots)" stroke="#1c1c1c" stroke-width="1.75"/>
<path d="M460.5 1112.6V1100M453.9 1100H467.1" stroke="#444" stroke-width="1.2" fill="none"/>
<rect x="447.62" y="1113.47" width="25.75" height="100.12" fill="url(#hatch)" stroke="#1c1c1c" stroke-width="1.75"/>
<path d="M371.6 1043.17V1213.6M364.2 1213.6H484.9M364.2 1044H371.6M364.2 1100.53H371.6M364.2 1157.07H371.6M391.6 1213.6V1221M426.2 1213.6V1221M460.2 1213.6V1221" stroke="#1c1c1c" stroke-width="1.65" fill="none"/>
<text x="362" y="1048.2" font-size="12.5" text-anchor="end">600</text>
<text x="362" y="1104.73" font-size="12.5" text-anchor="end">400</text>
<text x="362" y="1161.27" font-size="12.5" text-anchor="end">200</text>
<text x="362" y="1217.8" font-size="12.5" text-anchor="end">0</text>
<text transform="translate(391.15 1230.8) rotate(-45)" font-size="15.5" text-anchor="end">Untreated</text>
<text transform="translate(430.3 1230.9) rotate(-45)" font-size="15.5" text-anchor="end">40mM LGSH</text>
<text transform="translate(468.9 1232.4) rotate(-45)" font-size="15.5" text-anchor="end">80mM LGSH</text>
<path d="M390 1059.4H426" stroke="#333" stroke-width="1.25"/>
<text x="408.98" y="1062.2" font-size="17.5" text-anchor="middle" font-weight="bold" letter-spacing="1.95" class="s">*</text>
<text x="377" y="1025.3" font-size="16.4">8 wks</text></g>
<g><path d="M594.9 1131.6V1124.6M588.3 1124.6H601.5" stroke="#444" stroke-width="1.2" fill="none"/>
<rect x="582.02" y="1132.47" width="25.75" height="81.12" fill="#d2d2d2" stroke="#1c1c1c" stroke-width="1.75"/>
<path d="M629.9 1136V1132.4M623.3 1132.4H636.5" stroke="#444" stroke-width="1.2" fill="none"/>
<rect x="617.02" y="1136.88" width="25.75" height="76.72" fill="url(#dots)" stroke="#1c1c1c" stroke-width="1.75"/>
<path d="M663.9 1152.4V1150.8M657.3 1150.8H670.5" stroke="#444" stroke-width="1.2" fill="none"/>
<rect x="651.02" y="1153.28" width="25.75" height="60.32" fill="url(#hatch)" stroke="#1c1c1c" stroke-width="1.75"/>
<path d="M574.6 1043.58V1213.6M567.2 1213.6H687.9M567.2 1044.4H574.6M567.2 1100.8H574.6M567.2 1157.2H574.6M594.6 1213.6V1221M629.6 1213.6V1221M663.6 1213.6V1221" stroke="#1c1c1c" stroke-width="1.65" fill="none"/>
<text x="565" y="1048.6" font-size="12.5" text-anchor="end">300</text>
<text x="565" y="1105" font-size="12.5" text-anchor="end">200</text>
<text x="565" y="1161.4" font-size="12.5" text-anchor="end">100</text>
<text x="565" y="1217.8" font-size="12.5" text-anchor="end">0</text>
<text transform="translate(591.55 1229.5) rotate(-45)" font-size="15.5" text-anchor="end">Untreated</text>
<text transform="translate(630.7 1229.6) rotate(-45)" font-size="15.5" text-anchor="end">40mM LGSH</text>
<text transform="translate(669.3 1231.1) rotate(-45)" font-size="15.5" text-anchor="end">80mM LGSH</text>
<path d="M592.4 1106H663.6" stroke="#333" stroke-width="1.25"/>
<text x="626.98" y="1107.8" font-size="17.5" text-anchor="middle" font-weight="bold" letter-spacing="1.95" class="s">*</text>
<text x="579.6" y="1024" font-size="16.4">2 wks</text></g>
<g><path d="M747.5 1079.4V1066.6M740.9 1066.6H754.1" stroke="#444" stroke-width="1.2" fill="none"/>
<rect x="734.62" y="1080.28" width="25.75" height="133.32" fill="#d2d2d2" stroke="#1c1c1c" stroke-width="1.75"/>
<path d="M781.9 1136V1132.4M775.3 1132.4H788.5" stroke="#444" stroke-width="1.2" fill="none"/>
<rect x="769.02" y="1136.88" width="25.75" height="76.72" fill="url(#dots)" stroke="#1c1c1c" stroke-width="1.75"/>
<path d="M815.9 1167.6V1164M809.3 1164H822.5" stroke="#444" stroke-width="1.2" fill="none"/>
<rect x="803.02" y="1168.47" width="25.75" height="45.12" fill="url(#hatch)" stroke="#1c1c1c" stroke-width="1.75"/>
<path d="M726.6 1043.17V1213.6M719.2 1213.6H839.9M719.2 1044H726.6M719.2 1100.53H726.6M719.2 1157.07H726.6M747.2 1213.6V1221M781.6 1213.6V1221M815.6 1213.6V1221" stroke="#1c1c1c" stroke-width="1.65" fill="none"/>
<text x="717" y="1048.2" font-size="12.5" text-anchor="end">300</text>
<text x="717" y="1104.73" font-size="12.5" text-anchor="end">200</text>
<text x="717" y="1161.27" font-size="12.5" text-anchor="end">100</text>
<text x="717" y="1217.8" font-size="12.5" text-anchor="end">0</text>
<text transform="translate(743.05 1229.2) rotate(-45)" font-size="15.5" text-anchor="end">Untreated</text>
<text transform="translate(782.2 1229.3) rotate(-45)" font-size="15.5" text-anchor="end">40mM LGSH</text>
<text transform="translate(820.8 1230.8) rotate(-45)" font-size="15.5" text-anchor="end">80mM LGSH</text>
<path d="M745.6 1055H781.6" stroke="#333" stroke-width="1.25"/>
<text x="768.98" y="1059.2" font-size="17.5" text-anchor="middle" font-weight="bold" letter-spacing="1.95" class="s">**</text>
<path d="M749 1039H819.6" stroke="#333" stroke-width="1.25"/>
<text x="790.98" y="1041.2" font-size="17.5" text-anchor="middle" font-weight="bold" letter-spacing="1.95" class="s">***</text>
<text x="729" y="1025.7" font-size="16.4">4 wks</text></g>
<g><path d="M895.5 1148.6V1146M888.9 1146H902.1" stroke="#444" stroke-width="1.2" fill="none"/>
<rect x="882.62" y="1149.47" width="25.75" height="64.12" fill="#d2d2d2" stroke="#1c1c1c" stroke-width="1.75"/>
<path d="M929.9 1115V1108.6M923.3 1108.6H936.5" stroke="#444" stroke-width="1.2" fill="none"/>
<rect x="917.02" y="1115.88" width="25.75" height="97.72" fill="url(#dots)" stroke="#1c1c1c" stroke-width="1.75"/>
<path d="M964.1 1144.6V1141.4M957.5 1141.4H970.7" stroke="#444" stroke-width="1.2" fill="none"/>
<rect x="951.23" y="1145.47" width="25.75" height="68.12" fill="url(#hatch)" stroke="#1c1c1c" stroke-width="1.75"/>
<path d="M875 1043.17V1213.6M867.6 1213.6H988.3M867.6 1044H875M867.6 1100.53H875M867.6 1157.07H875M895.2 1213.6V1221M929.6 1213.6V1221M963.8 1213.6V1221" stroke="#1c1c1c" stroke-width="1.65" fill="none"/>
<text x="865.4" y="1048.2" font-size="12.5" text-anchor="end">300</text>
<text x="865.4" y="1104.73" font-size="12.5" text-anchor="end">200</text>
<text x="865.4" y="1161.27" font-size="12.5" text-anchor="end">100</text>
<text x="865.4" y="1217.8" font-size="12.5" text-anchor="end">0</text>
<text transform="translate(896.25 1230.5) rotate(-45)" font-size="15.5" text-anchor="end">Untreated</text>
<text transform="translate(935.4 1230.6) rotate(-45)" font-size="15.5" text-anchor="end">40mM LGSH</text>
<text transform="translate(974 1232.1) rotate(-45)" font-size="15.5" text-anchor="end">80mM LGSH</text>
<path d="M892.6 1082.6H929" stroke="#333" stroke-width="1.25"/>
<text x="912.58" y="1087.2" font-size="17.5" text-anchor="middle" font-weight="bold" letter-spacing="1.95" class="s">**</text>
<text x="878.4" y="1024.7" font-size="16.4">8 wks</text></g>
<text x="20.2" y="29.9" font-size="17.5">A</text>
<text x="528.6" y="29.7" font-size="17.5">B</text>
<text x="19.6" y="358" font-size="17.5">C</text>
<text x="517.3" y="358.4" font-size="17.5">D</text>
<text x="18.2" y="698.8" font-size="17.5">E</text>
<text x="515.4" y="699.7" font-size="17.5">F</text>
<text x="16.7" y="1024" font-size="17.5">G</text>
<text x="513.8" y="1024.4" font-size="17.5">H</text>
<text transform="translate(31.4 126.6) rotate(-90)" font-size="17.0" text-anchor="middle">TNF-α (pg/ml)</text>
<text transform="translate(534.1 126.2) rotate(-90)" font-size="17.0" text-anchor="middle">IL-12 (pg/ml)</text>
<text transform="translate(25.3 462.7) rotate(-90)" font-size="17.0" text-anchor="middle">IL-2 (pg/ml)</text>
<text transform="translate(526.8 468.5) rotate(-90)" font-size="17.0" text-anchor="middle">IFN-γ (pg/ml)</text>
<text transform="translate(25.3 796.8) rotate(-90)" font-size="17.0" text-anchor="middle">TGF-β (pg/ml)</text>
<text transform="translate(526.8 804.5) rotate(-90)" font-size="17.0" text-anchor="middle">IL-10 (pg/ml)</text>
<text transform="translate(31.8 1128) rotate(-90)" font-size="17.0" text-anchor="middle">IL-17 (pg/ml)</text>
<text transform="translate(530.2 1131.2) rotate(-90)" font-size="17.0" text-anchor="middle">IL-6 (pg/ml)</text>
</svg>
</body></html>
